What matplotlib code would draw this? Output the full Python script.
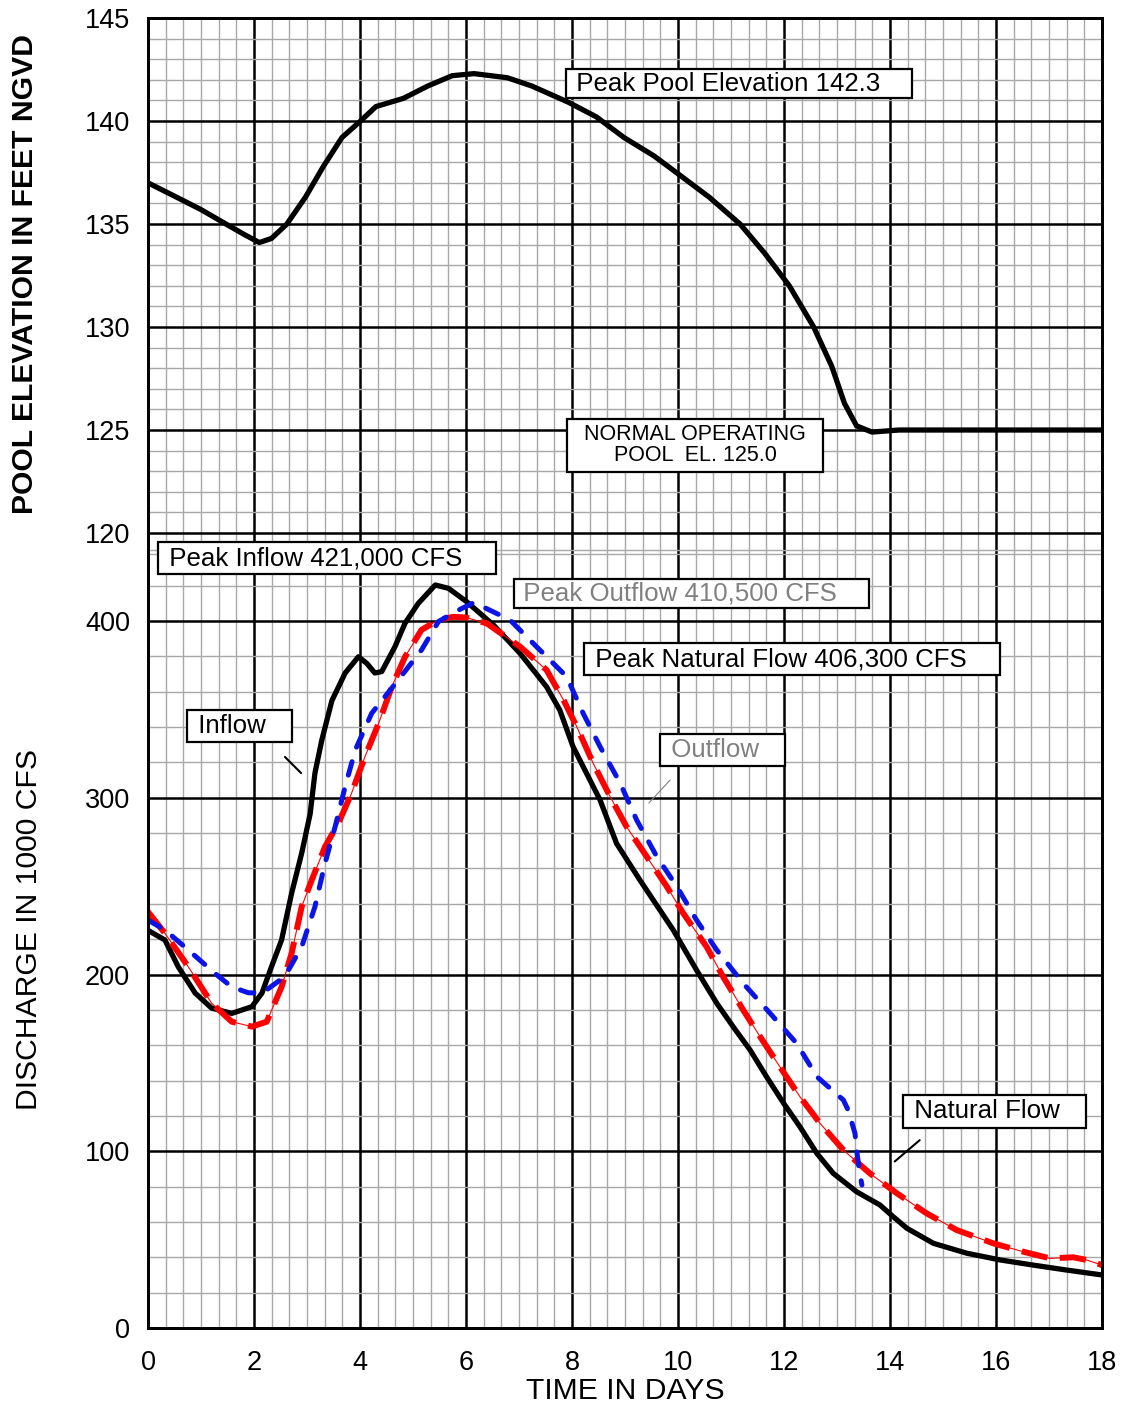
import numpy as np
import matplotlib
matplotlib.use('Agg')
import matplotlib.pyplot as plt

plt.rcParams['font.family'] = ['Liberation Sans', 'DejaVu Sans']
plt.rcParams['lines.scale_dashes'] = False

# pool elevation, feet NGVD
pool_days = [0, 0.54, 1.0, 1.47, 1.81, 2.1, 2.33, 2.62, 2.97, 3.31, 3.66, 4.01, 4.3, 4.82,
             5.28, 5.74, 6.15, 6.78, 7.24, 7.94, 8.46, 8.98, 9.55, 10.02, 10.59, 11.17,
             11.63, 12.1, 12.56, 12.9, 13.14, 13.37, 13.66, 14.17, 18.0]
pool_elev = [137.0, 136.3, 135.7, 135.0, 134.5, 134.1, 134.3, 135.0, 136.3, 137.8, 139.2,
             140.0, 140.7, 141.1, 141.7, 142.2, 142.3, 142.1, 141.7, 140.9, 140.2, 139.2,
             138.3, 137.4, 136.3, 135.0, 133.6, 132.0, 130.0, 128.1, 126.3, 125.2, 124.9,
             125.0, 125.0]

# discharge, 1000 cfs
inflow_days = [0, 0.32, 0.57, 0.89, 1.2, 1.58, 1.96, 2.15, 2.33, 2.52, 2.71, 2.9, 3.06, 3.15,
               3.28, 3.47, 3.72, 3.97, 4.13, 4.28, 4.41, 4.66, 4.85, 5.1, 5.42, 5.67, 6.01,
               6.52, 7.02, 7.52, 7.77, 8.02, 8.53, 8.84, 9.28, 9.91, 10.35, 10.73, 11.04,
               11.36, 11.67, 11.99, 12.3, 12.62, 12.93, 13.37, 13.81, 14.06, 14.32, 14.82,
               15.45, 16.08, 16.7, 17.33, 18.0]
inflow = [225, 219.5, 204.4, 189.5, 181, 178, 181.8, 189.5, 204.4, 219.5, 246, 268.7, 291,
          314, 332.7, 355, 370.6, 379.8, 376, 370.6, 371.4, 385.5, 398.8, 410, 420.4, 418.5,
          411, 397.7, 381.7, 362.8, 349.6, 328.9, 298.7, 274.2, 253.5, 225.2, 202.5, 183.8,
          170.5, 157.3, 142.2, 127.3, 113.9, 98.8, 87.5, 77.1, 69.6, 63, 56.4, 47.9, 42.3,
          38.5, 35.6, 32.8, 30]

natural_days = [0, 0.32, 0.76, 1.2, 1.58, 1.96, 2.24, 2.52, 2.71, 2.9, 3.09, 3.34, 3.59,
                3.84, 4.09, 4.35, 4.6, 4.85, 5.16, 5.48, 5.76, 6.0, 6.39, 7.02, 7.52, 7.84,
                8.09, 8.4, 8.72, 9.03, 9.41, 9.79, 10.1, 10.54, 10.85, 11.23, 11.55, 11.92,
                12.3, 12.68, 13.12, 13.62, 14.13, 14.69, 15.26, 15.95, 16.51, 17.02, 17.46,
                17.71, 18.0]
natural = [235.5, 223.3, 204.4, 183.8, 173.3, 170.5, 173.3, 193, 212, 238.4, 253.5, 272.3,
           285.5, 302.5, 323, 342, 362.8, 379.8, 395, 400.6, 402.4, 402, 398.7, 385.5, 372.3,
           355.3, 340.2, 319.5, 300.6, 283.6, 266.7, 249.7, 234.6, 215.7, 198.8, 179.9,
           164.8, 147.9, 130.9, 115.8, 100.7, 87.5, 76.2, 64.9, 55.4, 47.9, 43.2, 39.4, 40,
           38.5, 35.6]

outflow_days = [0, 0.32, 0.76, 1.26, 1.58, 1.89, 2.15, 2.58, 2.9, 3.15, 3.34, 3.53, 3.72,
                3.91, 4.22, 4.72, 5.16, 5.48, 5.86, 6.15, 6.83, 7.33, 7.9, 8.21, 8.53, 8.91,
                9.22, 9.6, 9.98, 10.35, 10.73, 11.23, 11.74, 12.24, 12.62, 13.12, 13.21,
                13.34, 13.37, 13.43, 13.47]
outflow = [230.8, 225.2, 213.9, 200.7, 193, 189.7, 189.4, 198.8, 215.7, 238.4, 263, 283.6,
           306.3, 327, 347.8, 366.6, 383.6, 399.7, 406.2, 410.5, 400.6, 385.5, 368.5, 347.8,
           328.9, 308.2, 287.4, 266.7, 249.7, 230.8, 213.9, 195, 178, 161, 142.2, 129, 123.3,
           110.1, 100.7, 87.5, 80.9]

W, H = 1131, 1408
fig = plt.figure(figsize=(W / 100, H / 100), dpi=100)
ax = fig.add_axes([148 / W, 1 - 1328 / H, (1102 - 148) / W, (1328 - 18) / H])

# discharge scale on the lower part, elevation scale on the upper part
ax.set_xlim(0, 18)
ax.set_ylim(0, 741.2)
ax2 = ax.twinx()
ax2.set_ylim(81.41, 145)

ax.set_xticks(np.arange(0, 19, 2))
ax.set_xticks(np.arange(0, 18.01, 1 / 3), minor=True)
ax.set_yticks([0, 100, 200, 300, 400])
ax.set_yticks(np.arange(0, 441, 20), minor=True)
ax2.set_yticks(np.arange(120, 146, 5))
ax2.set_yticks(np.arange(119, 146, 1), minor=True)

ax.grid(which='major', color='black', lw=1.8)
ax.grid(which='minor', color='#a8a8a8', lw=1.0)
ax2.grid(which='major', axis='y', color='black', lw=1.8, zorder=0)
ax2.grid(which='minor', axis='y', color='#a8a8a8', lw=1.0, zorder=0)
ax.set_axisbelow(True)
ax2.set_axisbelow(True)

ax.tick_params(which='both', length=0, labelsize=19.5, pad=13)
ax.tick_params(axis='x', pad=16)
ax2.yaxis.set_ticks_position('left')
ax2.tick_params(axis='y', which='both', length=0, labelsize=19.5, pad=13,
                labelleft=True, labelright=False)
for a in (ax, ax2):
    for s in a.spines.values():
        s.set_linewidth(2)
        s.set_color('black')

# curves
ax.plot(inflow_days, inflow, color='black', lw=3.8, zorder=3, solid_joinstyle='round')
ax.plot(natural_days, natural, color='red', lw=0.8, zorder=4)
ax.plot(natural_days, natural, color='red', lw=4.3, dashes=(19, 9), zorder=4)
ax.plot(outflow_days, outflow, color='#0a14e6', lw=3.6, dashes=(10, 11),
        dash_capstyle='round', zorder=5)
ax2.plot(pool_days, pool_elev, color='black', lw=3.8, zorder=3, solid_joinstyle='round')

box = dict(boxstyle='square,pad=0.1', facecolor='white', edgecolor='black', lw=1.6)
box2 = dict(boxstyle='square,pad=0.16', facecolor='white', edgecolor='black', lw=1.6)
dt = ax.transData
fs = 18.6

ax2.text(7.94, 141.82, ' Peak Pool Elevation 142.3    ', fontsize=fs, va='center',
         bbox=box, zorder=6)
ax2.text(10.32, 124.25, '  NORMAL OPERATING  \nPOOL  EL. 125.0', fontsize=15.5,
         ha='center', va='center', multialignment='center', linespacing=1.0,
         bbox=dict(boxstyle='square,pad=0.25', facecolor='white', edgecolor='black',
                   lw=1.6), zorder=6)
ax2.text(0.265, 435.6, ' Peak Inflow 421,000 CFS    ', fontsize=fs, va='center',
         bbox=box2, zorder=6, transform=dt)
ax2.text(6.945, 415.8, ' Peak Outflow 410,500 CFS    ', fontsize=fs, va='center',
         color='#808080', bbox=box, zorder=6, transform=dt)
ax2.text(8.30, 378.5, ' Peak Natural Flow 406,300 CFS    ', fontsize=fs, va='center',
         bbox=box2, zorder=6, transform=dt)
ax2.text(0.81, 340.6, ' Inflow   ', fontsize=fs, va='center', bbox=box2, zorder=6,
         transform=dt)
ax2.text(9.74, 327, ' Outflow   ', fontsize=fs, va='center', color='#808080',
         bbox=box2, zorder=6, transform=dt)
ax2.text(14.32, 122.5, ' Natural Flow   ', fontsize=fs, va='center', bbox=box2,
         zorder=6, transform=dt)

# leader lines
ax2.annotate('', xy=(2.925, 312.9), xytext=(2.547, 324.2), xycoords=dt, textcoords=dt,
             arrowprops=dict(arrowstyle='-', lw=1.5, color='black'))
ax2.annotate('', xy=(9.415, 295.9), xytext=(9.887, 311.2), xycoords=dt, textcoords=dt,
             arrowprops=dict(arrowstyle='-', lw=0.8, color='#808080'))
ax2.annotate('', xy=(14.05, 93.2), xytext=(14.6, 107.3), xycoords=dt, textcoords=dt,
             arrowprops=dict(arrowstyle='-', lw=1.5, color='black'))

fig.text(25 / W, 1 - 274 / H, 'POOL ELEVATION IN FEET NGVD', rotation=90, fontsize=21.7,
         fontweight='bold', ha='center', va='center')
fig.text(29 / W, 1 - 930 / H, 'DISCHARGE IN 1000 CFS', rotation=90, fontsize=21.7,
         ha='center', va='center')
fig.text(625 / W, 1 - 1391 / H, 'TIME IN DAYS', fontsize=21.7, ha='center', va='center')

fig.savefig('out.png', dpi=100)
